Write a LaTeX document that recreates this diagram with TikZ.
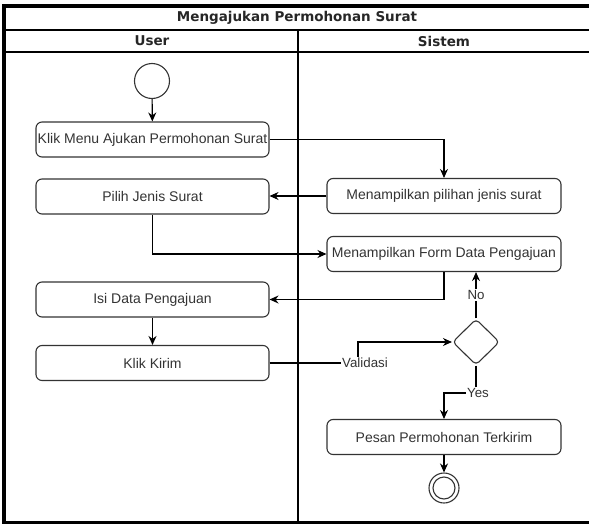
\documentclass[tikz,border=0pt]{standalone}
\usepackage{fontspec}
\setmainfont{Liberation Sans}
\newfontfamily\headfont{DejaVu Sans}
\usetikzlibrary{arrows.meta,shapes.geometric}
\definecolor{ink}{HTML}{333333}
\begin{document}
\begin{tikzpicture}[x=1pt,y=-1pt,
  act/.style={draw=ink, line width=1.1pt, rounded corners=6pt, minimum width=233pt,
    minimum height=35pt, inner sep=0pt, text=ink, font=\fontsize{14}{16}\selectfont},
  flow/.style={draw=black, line width=1.1pt, -{Stealth[length=9pt,width=8pt]}},
  plain/.style={draw=black, line width=1.1pt},
  lbl/.style={fill=white, inner sep=1pt, text=ink, font=\fontsize{13.3}{15}\selectfont},
  head/.style={font=\headfont\bfseries\fontsize{13.5}{15}\selectfont, text=black!85},
  lane/.style={draw=black, line width=1.2pt}]
\useasboundingbox (0,0) rectangle (589,525);

% swimlane frame
\draw[lane] (4,30) -- (592,30);
\draw[lane] (4,52) -- (592,52);
\draw[lane] (298,30) -- (298,522.5);
\draw[line width=3.2pt] (592,6) -- (4,6) -- (4,522.5) -- (592,522.5);
\node[head] (title) at (297,18) {Mengajukan Permohonan Surat};
\node[head] (laneU) at (152,41) {User};
\node[head] (laneS) at (444,41) {Sistem};

% activities
\node[circle, draw=ink, line width=1.1pt, minimum size=35pt, inner sep=0pt] (start) at (152,81) {};
\node[act] (klik)  at (152.5,139.5) {Klik Menu Ajukan Permohonan Surat};
\node[act] (pilih) at (152.5,196.5) {Pilih Jenis Surat};
\node[act] (isi)   at (152.5,299.5) {Isi Data Pengajuan};
\node[act] (kirim) at (152.5,363)   {Klik Kirim};
\node[act, minimum width=234pt] (pil)   at (444,196)   {Menampilkan pilihan jenis surat};
\node[act, minimum width=234pt] (form)  at (444,254)   {Menampilkan Form Data Pengajuan};
\node[act, minimum width=234pt] (pesan) at (444,437)   {Pesan Permohonan Terkirim};
\node[diamond, draw=ink, line width=1.1pt, rounded corners=4pt, minimum width=47pt,
      minimum height=46pt, inner sep=0pt] (dec) at (476,342) {};
\node[circle, draw=ink, line width=1.1pt, minimum size=30pt, inner sep=0pt] (stop) at (444,488) {};
\node[circle, draw=ink, line width=1.1pt, minimum size=22pt, inner sep=0pt] (stopin) at (444,488) {};

% bends
\coordinate (vbend) at (358,342);
\coordinate (ybend) at (476,393);

% connectors
\draw[flow] (start) -- (klik);
\draw[flow] (klik.east) -| (pil.north);
\draw[flow] (pil.west) -- (pil.west -| pilih.east);
\draw[flow] (pilih.south) |- (form.west);
\draw[flow] (form.south) |- (isi.east);
\draw[flow] (isi) -- (kirim);
\draw[flow] (kirim.east) -| (vbend) -- (dec.west);
\draw[flow] (dec.north) -- (dec.north |- form.south);
\draw[plain] (dec.south) -- (ybend);
\draw[flow] (ybend) -| (pesan.north);
\draw[flow] (pesan) -- (stop);

% connector labels
\node[lbl] (lv) at (365,363) {Validasi};
\node[lbl] (ln) at (476,295) {No};
\node[lbl] (ly) at (478,393) {Yes};
\end{tikzpicture}
\end{document}
